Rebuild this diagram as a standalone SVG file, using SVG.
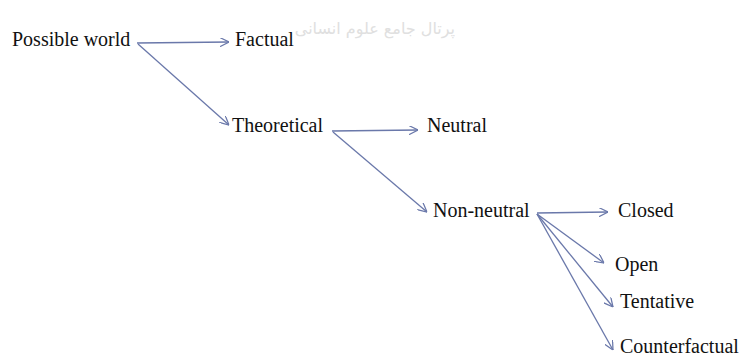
<svg xmlns="http://www.w3.org/2000/svg" width="742" height="364" viewBox="0 0 742 364">
<style>
text{font-family:"Liberation Serif","Times New Roman",serif;font-size:20px;fill:#111}
.wm{font-family:"DejaVu Sans","Noto Sans",sans-serif;font-size:16px;fill:#e0e0e0}
.c line{stroke:#6a78aa;stroke-width:1.3;fill:none;marker-end:url(#ah)}
</style>
<defs>
<marker id="ah" viewBox="0 0 10 10" refX="10" refY="5" markerWidth="9" markerHeight="9" markerUnits="userSpaceOnUse" orient="auto">
<path d="M0,0 L10,5 L0,10" fill="none" stroke="#6a78aa" stroke-width="1.4"/>
</marker>
</defs>
<text class="wm" x="455" y="34" text-anchor="end">پرتال جامع علوم انسانی</text>
<g class="c" id="connectors">
<line x1="137" y1="43" x2="229" y2="42"/>
<line x1="138" y1="44" x2="229" y2="125"/>
<line x1="332" y1="131" x2="418" y2="130"/>
<line x1="333" y1="132" x2="427" y2="212"/>
<line x1="537" y1="213" x2="608" y2="212"/>
<line x1="537" y1="214" x2="604" y2="263"/>
<line x1="537" y1="214" x2="613" y2="307"/>
<line x1="537" y1="214" x2="613" y2="350"/>
</g>
<g id="possible_world"><text x="12" y="46">Possible world</text></g>
<g id="factual"><text x="235" y="46">Factual</text></g>
<g id="theoretical"><text x="232" y="132">Theoretical</text></g>
<g id="neutral"><text x="427" y="132">Neutral</text></g>
<g id="non_neutral"><text x="433" y="217">Non-neutral</text></g>
<g id="closed"><text x="618" y="217">Closed</text></g>
<g id="open"><text x="615" y="271">Open</text></g>
<g id="tentative"><text x="620" y="308">Tentative</text></g>
<g id="counterfactual"><text x="620" y="353">Counterfactual</text></g>
</svg>
